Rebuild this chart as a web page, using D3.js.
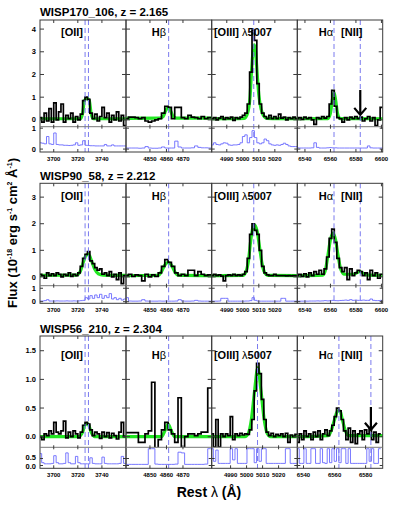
<!DOCTYPE html>
<html><head><meta charset="utf-8">
<script src="https://cdn.jsdelivr.net/npm/d3@7"></script>
<style>body{margin:0;background:#fff}</style>
</head><body>
<svg id="c" width="407" height="509"></svg>
<script>
// ---------------- DATA ----------------
const titles = ["WISP170_106, z = 2.165", "WISP90_58, z = 2.212", "WISP56_210, z = 2.304"];
const restLines = [[3726.03, 3728.82], [4861.33], [5006.84], [6562.8, 6583.4]];
const xTicks = [[3700, 3720, 3740], [4850, 4860, 4870], [4990, 5000, 5010, 5020], [6540, 6560, 6580, 6600]];
const xTicksBottomHa = [6540, 6560, 6580];
const yTicksMain = [[0, 1, 2, 3, 4], [0, 1, 2, 3], [0, 0.5, 1.0, 1.5]];
const yTicksSub = [[0, 1], [0, 1], [0, 0.5]];
// pixel-grid starts and steps (Angstrom) per column
const gridStart = [[3689, 4836, 4981, 6534], [3689, 4836, 4981, 6534], [3689, 4836, 4978.5, 6536.5]];
const gridStep = [[2, 2, 1.5, 2], [2, 2, 1.5, 2], [2, 2, 1.5, 1.5]];
const arrowNII = [[6583.4, 1.32, 0.22], null, [6583.4, 0.52, 0.12]];

// WISP170_106
const p0_oii_flux = [0.1,-0.1,0.3,-0.05,0.5,-0.1,0.75,0.0,0.35,0.7,-0.1,0.2,0.05,0.3,-0.1,0.15,0.0,0.25,0.85,1.0,0.9,0.3,0.05,0.25,-0.05,0.15,0.55,0.1,0.3,-0.1,0.2,0.0,0.35,-0.05,0.2,-0.25];
const p0_oii_err = [0.3,0.28,0.25,0.6,0.25,0.22,0.77,0.22,0.2,0.2,0.18,0.18,0.17,0.18,0.2,0.3,0.18,0.2,0.4,0.18,0.17,0.16,0.16,0.15,0.15,0.15,0.15,0.22,0.15,0.15,0.2,0.15,0.15,0.15,0.15,0.15];
const p0_oii_model = [[3688,0.05],[3722,0.05],[3724,0.3],[3725.5,0.85],[3727.5,0.95],[3729.5,0.85],[3731,0.3],[3733,0.05],[3761,0.05]];
const p0_hb_flux = [0.05,0.12,0.12,0.1,0.05,0.1,-0.05,-0.1,-0.05,0.0,0.05,0.3,0.6,0.55,0.05,0.55,0.55,0.1,0.05,0.2,0.12,0.1,0.05,0.15,0.05,0.1];
const p0_hb_err = [0.05,0.05,0.05,0.05,0.04,0.05,0.12,0.05,0.04,0.04,0.05,0.1,0.05,0.05,0.05,0.38,0.1,0.05,0.05,0.05,0.06,0.15,0.08,0.06,0.06,0.05];
const p0_hb_model = [[4835,0.07],[4856,0.08],[4858,0.15],[4859.5,0.4],[4861,0.55],[4862.5,0.4],[4864,0.15],[4866,0.08],[4889,0.08]];
const p0_oiii_flux = [0.05,0.1,0.0,0.08,0.15,0.02,0.1,0.05,0.12,-0.02,0.1,0.05,0.12,0.2,0.3,0.7,2.1,3.95,3.5,1.6,0.7,0.3,0.15,0.05,0.2,0.05,0.15,0.05,0.25,0.08,0.12,0.0,0.1,0.05,0.12,0.05];
const p0_oiii_err = [0.2,0.3,0.22,0.2,0.25,0.3,0.28,0.2,0.18,0.2,0.2,0.22,0.3,0.6,0.68,0.3,0.55,0.88,0.55,0.3,0.25,0.3,0.48,0.4,0.25,0.2,0.18,0.2,0.18,0.22,0.28,0.22,0.15,0.12,0.12,0.12];
const p0_oiii_model = [[4980,0.05],[5001,0.07],[5003,0.3],[5004.5,1.0],[5005.5,2.2],[5006.5,3.1],[5007.2,3.3],[5008,3.0],[5009,2.0],[5010,1.1],[5011.5,0.45],[5013,0.18],[5015,0.07],[5035,0.05]];
const p0_ha_flux = [0.05,0.1,0.02,0.12,0.05,0.1,0.0,-0.2,0.1,0.05,0.15,0.08,0.15,0.7,1.3,0.6,0.1,0.05,-0.1,0.1,0.0,0.12,0.05,0.15,0.05,0.12,-0.05,0.05,0.15,-0.05,0.1,-0.25,0.0,0.55];
const p0_ha_err = [0.06,0.05,0.05,0.05,0.05,0.05,0.06,0.3,0.08,0.05,0.05,0.05,0.06,0.07,0.06,0.06,0.05,0.05,0.05,0.05,0.05,0.05,0.05,0.05,0.05,0.05,0.05,0.05,0.15,0.06,0.05,0.05,0.05,0.05];
const p0_ha_model = [[6533,0.05],[6558,0.06],[6560,0.3],[6561.5,0.9],[6562.8,1.2],[6564,0.9],[6565.5,0.3],[6567.5,0.06],[6602,0.05]];

// WISP90_58
const p1_oii_flux = [0.1,0.05,-0.05,0.15,0.05,0.12,0.05,0.15,0.1,0.0,0.1,0.05,0.15,0.02,0.1,0.05,0.15,0.4,0.7,0.85,0.95,0.6,0.5,0.35,0.25,0.3,0.1,0.15,0.05,0.2,0.0,0.1,-0.1,0.15,-0.25,0.05];
const p1_oii_err = [0.05,0.05,0.08,0.15,0.05,0.05,0.05,0.06,0.05,0.05,0.05,0.06,0.05,0.05,0.06,0.05,0.06,0.08,0.1,0.3,0.2,0.45,0.25,0.5,0.3,0.55,0.25,0.45,0.3,0.6,0.2,0.3,0.15,0.25,0.12,0.2];
const p1_oii_model = [[3688,0.06],[3719,0.07],[3722,0.2],[3724.5,0.55],[3727,0.82],[3729,0.85],[3731,0.65],[3734,0.3],[3737,0.12],[3741,0.07],[3761,0.06]];
const p1_hb_flux = [0.05,0.1,0.02,0.08,0.05,-0.15,0.1,0.0,0.08,0.02,0.15,0.4,0.65,0.55,0.4,0.15,0.05,0.1,0.05,0.25,0.25,0.05,0.2,0.1,0.05,0.08];
const p1_hb_err = [0.3,0.05,0.04,0.04,0.05,0.15,0.05,0.04,0.04,0.04,0.05,0.04,0.05,0.04,0.04,0.05,0.15,0.05,0.04,0.04,0.05,0.1,0.05,0.04,0.04,0.04];
const p1_hb_model = [[4835,0.05],[4855,0.06],[4857,0.2],[4859,0.45],[4861,0.55],[4863,0.45],[4865,0.2],[4867,0.07],[4889,0.05]];
const p1_oiii_flux = [0.05,0.1,0.05,0.08,0.03,-0.15,0.05,0.08,0.05,0.1,0.05,0.08,0.05,0.1,0.2,0.7,1.6,2.0,1.75,1.6,1.0,0.4,0.15,0.08,0.05,0.05,0.1,0.05,0.05,0.05,0.05,0.04,0.05,0.04,0.05,0.04];
const p1_oiii_err = [0.04,0.04,0.04,0.05,0.25,0.25,0.25,0.04,0.04,0.04,0.04,0.04,0.04,0.04,0.05,0.05,0.08,0.3,0.1,0.05,0.04,0.04,0.04,0.04,0.04,0.04,0.04,0.04,0.04,0.25,0.25,0.04,0.04,0.04,0.04,0.04];
const p1_oiii_model = [[4980,0.05],[5000,0.06],[5002,0.2],[5003.5,0.6],[5005,1.4],[5006.5,1.9],[5007.5,1.95],[5009,1.7],[5010.5,1.1],[5012,0.5],[5013.5,0.18],[5015.5,0.06],[5035,0.05]];
const p1_ha_flux = [0.05,0.1,0.02,0.12,0.0,0.15,0.05,0.2,0.1,0.25,0.1,0.3,0.75,1.45,1.8,1.3,0.7,0.35,0.2,0.35,-0.1,0.3,0.05,0.15,0.25,0.2,0.05,0.15,-0.1,0.25,0.05,0.15,-0.05,0.1];
const p1_ha_err = [0.04,0.04,0.04,0.05,0.04,0.05,0.05,0.05,0.06,0.05,0.06,0.08,0.06,0.07,0.1,0.08,0.07,0.09,0.1,0.12,0.1,0.15,0.1,0.12,0.1,0.1,0.12,0.1,0.1,0.2,0.1,0.08,0.08,0.1];
const p1_ha_model = [[6533,0.05],[6554,0.07],[6556,0.25],[6558,0.8],[6560,1.4],[6562,1.65],[6564,1.4],[6566,0.8],[6568,0.3],[6571,0.1],[6578,0.1],[6583,0.2],[6588,0.08],[6602,0.06]];

// WISP56_210
const p2_oii_flux = [0.0,-0.05,0.05,0.02,0.1,0.05,0.25,0.08,0.05,0.1,0.27,-0.02,0.08,0.0,0.1,0.05,-0.02,0.08,0.2,0.25,0.22,0.12,0.02,0.08,0.05,-0.03,0.08,0.0,0.07,-0.02,0.06,0.02,-0.04,0.08,0.25,0.0];
const p2_oii_err = [0.85,0.2,0.12,0.12,0.12,0.15,0.7,0.2,0.12,0.12,0.15,0.9,0.2,0.12,0.12,0.65,0.2,0.12,0.12,0.12,0.12,0.55,0.15,0.12,0.12,0.12,0.6,0.15,0.12,0.12,0.12,0.12,0.12,0.15,0.65,0.15];
const p2_oii_model = [[3688,0.0],[3721,0.0],[3724,0.08],[3726.5,0.22],[3728.5,0.22],[3731,0.08],[3734,0.0],[3761,0.0]];
const p2_hb_flux = [0.07,0.07,0.07,0.07,-0.1,-0.1,0.05,0.1,0.95,-0.2,-0.05,0.12,0.25,0.12,0.05,-0.1,0.68,-0.2,0.0,0.05,0.05,0.02,0.05,0.08,0.08,0.85];
const p2_hb_err = [0.08,0.08,0.08,0.08,0.08,0.08,0.08,1.2,1.2,0.1,0.08,0.08,0.08,0.08,0.08,0.1,0.95,0.9,0.08,0.08,0.08,0.08,0.08,0.08,0.1,1.2];
const p2_hb_model = [[4835,0.0],[4857,0.0],[4859,0.1],[4861,0.22],[4863,0.1],[4865,0.0],[4889,0.0]];
const p2_oiii_flux = [0.05,-0.18,0.3,-0.18,0.05,0.0,0.05,0.02,0.35,-0.05,0.05,0.02,0.06,0.03,0.05,0.04,0.12,0.3,0.8,1.28,1.1,0.65,0.3,0.08,0.02,0.06,0.0,0.04,0.02,0.05,0.0,0.06,-0.1,0.03,0.0,0.04];
const p2_oiii_err = [1.2,0.3,1.1,0.15,0.15,0.15,0.15,0.15,1.2,0.4,1.2,0.15,0.15,0.15,0.15,1.2,1.2,1.2,0.2,1.2,0.3,1.2,1.2,0.15,0.15,0.15,0.15,0.15,0.15,0.15,0.15,1.2,1.2,0.15,0.15,0.15];
const p2_oiii_model = [[4977,0.0],[4999,0.0],[5001,0.05],[5003,0.3],[5005,0.8],[5007,1.2],[5009,0.8],[5011,0.3],[5013,0.05],[5015,0.0],[5033,0.0]];
const p2_ha_flux = [-0.1,0.05,-0.05,0.1,0.0,0.05,-0.05,0.08,0.0,0.1,-0.05,0.05,0.12,0.02,0.1,0.2,0.35,0.5,0.45,0.3,0.1,-0.05,0.15,-0.1,0.1,-0.12,0.05,0.1,-0.05,0.12,0.05,0.15,-0.05,0.08,-0.1,0.05];
const p2_ha_err = [1.2,0.15,0.15,1.2,0.15,0.15,1.2,1.2,0.15,0.15,1.2,0.2,0.15,1.2,0.2,1.2,0.3,1.2,0.2,1.2,1.2,0.15,1.2,0.15,0.15,0.15,0.15,0.15,0.15,0.15,1.2,0.3,1.2,0.15,0.15,1.2];
const p2_ha_model = [[6535,0.0],[6556,0.02],[6558,0.12],[6560,0.3],[6562,0.45],[6563.5,0.45],[6565,0.3],[6567,0.1],[6569,0.02],[6592,0.02]];

const fluxes = [[p0_oii_flux,p0_hb_flux,p0_oiii_flux,p0_ha_flux],[p1_oii_flux,p1_hb_flux,p1_oiii_flux,p1_ha_flux],[p2_oii_flux,p2_hb_flux,p2_oiii_flux,p2_ha_flux]];
const errs = [[p0_oii_err,p0_hb_err,p0_oiii_err,p0_ha_err],[p1_oii_err,p1_hb_err,p1_oiii_err,p1_ha_err],[p2_oii_err,p2_hb_err,p2_oiii_err,p2_ha_err]];
const models = [[p0_oii_model,p0_hb_model,p0_oiii_model,p0_ha_model],[p1_oii_model,p1_hb_model,p1_oiii_model,p1_ha_model],[p2_oii_model,p2_hb_model,p2_oiii_model,p2_ha_model]];

// ---------------- LAYOUT ----------------
const colX = [40, 126, 211.7, 297.3, 382.7];
const xDomains = [
  [[3688.6,3760],[4835.5,4887.4],[4980.6,5034],[6534,6601]],
  [[3688.6,3760],[4835.5,4887.4],[4980.6,5034],[6534,6601]],
  [[3688.6,3760],[4835.5,4887.4],[4978.2,5031.7],[6536,6591]]
];
const layout = [
  {top:20, mid:126.7, bot:152, yMain:[-0.3,4.4], ySub:[-0.14,1.07], titleY:16, labY:36, tickY:160.5, fmt:d3.format("d")},
  {top:183.3, mid:285.7, bot:303.3, yMain:[-0.33,3.52], ySub:[-0.12,1.19], titleY:180, labY:200, tickY:311.5, fmt:d3.format("d")},
  {top:336, mid:447.3, bot:468.3, yMain:[-0.185,1.757], ySub:[-0.2,1.3], titleY:333, labY:359, tickY:476.5, fmt:d3.format(".1f")}
];
const FONT = "'Liberation Sans', Arial, Helvetica, sans-serif";
const svg = d3.select("#c").style("font-family", FONT);
const defs = svg.append("defs");
const frameCol = "#3a3a3a";

layout.forEach((L, p) => {
  svg.append("text").attr("x", 40).attr("y", L.titleY).attr("font-size", 11.5).attr("font-weight", "bold").text(titles[p]);
  const yM = d3.scaleLinear().domain(L.yMain).range([L.mid, L.top]);
  const yS = d3.scaleLinear().domain(L.ySub).range([L.bot, L.mid]);
  for (let c = 0; c < 4; c++) {
    const x0 = colX[c], x1 = colX[c + 1];
    const x = d3.scaleLinear().domain(xDomains[p][c]).range([x0, x1]);
    const idM = `cm${p}${c}`, idS = `cs${p}${c}`;
    defs.append("clipPath").attr("id", idM).append("rect").attr("x", x0).attr("y", L.top).attr("width", x1 - x0).attr("height", L.mid - L.top);
    defs.append("clipPath").attr("id", idS).append("rect").attr("x", x0).attr("y", L.mid).attr("width", x1 - x0).attr("height", L.bot - L.mid);
    const st = gridStart[p][c], sp = gridStep[p][c];
    const fl = fluxes[p][c].map((v, i) => [st + sp * i, v]);
    const er = errs[p][c].map((v, i) => [st + sp * i, v]);
    const padStep = arr => [[arr[0][0] - sp / 2, arr[0][1]], ...arr, [arr[arr.length - 1][0] + sp / 2, arr[arr.length - 1][1]]];
    const stepM = d3.line().x(d => x(d[0])).y(d => yM(d[1])).curve(d3.curveStep);
    const stepS = d3.line().x(d => x(d[0])).y(d => yS(d[1])).curve(d3.curveStep);
    const smooth = d3.line().x(d => x(d[0])).y(d => yM(d[1])).curve(d3.curveMonotoneX);
    svg.append("path").attr("clip-path", `url(#${idS})`).attr("d", stepS(padStep(er)))
      .attr("fill", "none").attr("stroke", "#6a6aff").attr("stroke-width", 0.9);
    svg.append("path").attr("clip-path", `url(#${idM})`).attr("d", smooth(models[p][c]))
      .attr("fill", "none").attr("stroke", "#22e622").attr("stroke-width", 3.2);
    svg.append("path").attr("clip-path", `url(#${idM})`).attr("d", stepM(padStep(fl)))
      .attr("fill", "none").attr("stroke", "#000").attr("stroke-width", 1.7).attr("stroke-linejoin", "miter");
    restLines[c].forEach(w => {
      svg.append("line").attr("x1", x(w)).attr("x2", x(w)).attr("y1", L.top).attr("y2", L.bot)
        .attr("stroke", "#7a7aee").attr("stroke-width", 1).attr("stroke-dasharray", "5,3");
    });
    svg.append("rect").attr("x", x0).attr("y", L.top).attr("width", x1 - x0).attr("height", L.bot - L.top)
      .attr("fill", "none").attr("stroke", frameCol).attr("stroke-width", 1);
    svg.append("line").attr("x1", x0).attr("x2", x1).attr("y1", L.mid).attr("y2", L.mid).attr("stroke", "#777").attr("stroke-width", 1);
    const ytm = yTicksMain[p], yts = yTicksSub[p];
    ytm.forEach(t => {
      [[x0, x0 + 4], [x1, x1 - 4]].forEach(([a, b]) => svg.append("line").attr("x1", a).attr("x2", b).attr("y1", yM(t)).attr("y2", yM(t)).attr("stroke", frameCol));
    });
    yts.forEach(t => {
      [[x0, x0 + 3], [x1, x1 - 3]].forEach(([a, b]) => svg.append("line").attr("x1", a).attr("x2", b).attr("y1", yS(t)).attr("y2", yS(t)).attr("stroke", frameCol));
    });
    const xt = (p === 2 && c === 3) ? xTicksBottomHa : xTicks[c];
    xt.forEach(t => {
      const xx = x(t);
      svg.append("line").attr("x1", xx).attr("x2", xx).attr("y1", L.bot).attr("y2", L.bot - 3).attr("stroke", frameCol);
      svg.append("line").attr("x1", xx).attr("x2", xx).attr("y1", L.top).attr("y2", L.top + 3).attr("stroke", frameCol);
      svg.append("line").attr("x1", xx).attr("x2", xx).attr("y1", L.mid - 2).attr("y2", L.mid + 2).attr("stroke", frameCol);
      svg.append("text").attr("x", xx).attr("y", L.tickY).attr("text-anchor", "middle")
        .attr("font-size", 6).attr("font-weight", "bold").text(t);
    });
    if (c === 0) {
      // y tick labels, nudged apart where main and sub labels crowd
      const labs = ytm.map(t => ({t, y: yM(t)})).concat(yts.map(t => ({t, y: yS(t)}))).sort((a, b) => a.y - b.y);
      for (let i = 1; i < labs.length; i++) {
        const gap = labs[i].y - labs[i - 1].y;
        if (gap < 9) { const d = (9 - gap) / 2; labs[i - 1].y -= d; labs[i].y += d; }
      }
      labs.forEach(l => svg.append("text").attr("x", 36).attr("y", l.y + 2.7).attr("text-anchor", "end")
        .attr("font-size", 7.5).attr("font-weight", "bold").text(L.fmt(l.t)));
    }
    if (c === 3 && arrowNII[p]) {
      const [w, ya, yb] = arrowNII[p];
      const ax = x(w), yA = yM(ya), yB = yM(yb);
      svg.append("path").attr("d", `M${ax},${yA}L${ax},${yB}M${ax - 6},${yB - 7}L${ax},${yB}L${ax + 6},${yB - 7}`)
        .attr("fill", "none").attr("stroke", "#000").attr("stroke-width", 2.2);
    }
  }
  const lab = (xe, parts) => {
    const t = svg.append("text").attr("x", xe).attr("y", L.labY).attr("text-anchor", "end").attr("font-size", 11);
    parts.forEach(([s, b]) => t.append("tspan").attr("font-weight", b ? "bold" : "normal").text(s));
  };
  lab(83, [["[OII]", 1]]);
  lab(166, [["H", 1], ["β", 0]]);
  lab(272, [["[OIII] ", 1], ["λ", 0], ["5007", 1]]);
  lab(333, [["H", 1], ["α", 0]]);
  lab(362.5, [["[NII]", 1]]);
});

svg.append("text").attr("x", 209).attr("y", 497).attr("text-anchor", "middle").attr("font-size", 14).attr("font-weight", "bold")
  .call(t => { t.append("tspan").text("Rest "); t.append("tspan").attr("font-weight", "normal").text("λ"); t.append("tspan").text(" (Å)"); });
const yl = svg.append("text").attr("transform", "translate(17,233) rotate(-90)").attr("text-anchor", "middle")
  .attr("font-size", 13).attr("font-weight", "bold");
[["Flux (10", 0], ["-18", 1], [" erg s", 0], ["-1", 1], [" cm", 0], ["2", 1], [" Å", 0], ["-1", 1], [")", 0]].forEach(([s, sup], i, a) => {
  const prevSup = i > 0 && a[i - 1][1];
  const ts = yl.append("tspan").text(s);
  if (sup) ts.attr("font-size", 7).attr("dy", -5);
  else if (prevSup) ts.attr("dy", 5);
});
</script>
</body></html>
